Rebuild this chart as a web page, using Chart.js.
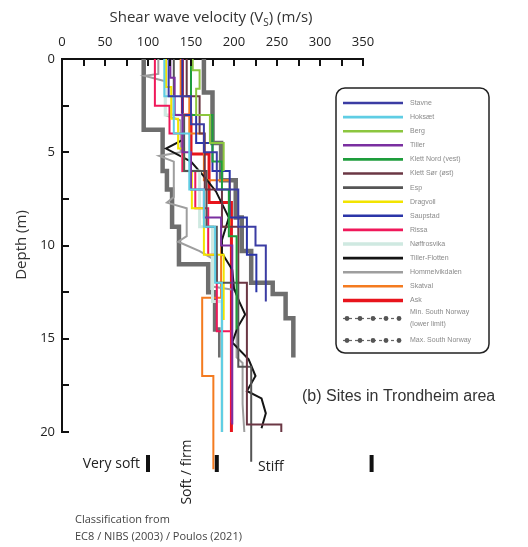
<!DOCTYPE html>
<html>
<head>
<meta charset="utf-8">
<script src="https://cdn.jsdelivr.net/npm/chart.js@4.4.1/dist/chart.umd.min.js"></script>
<style>
  html, body { margin: 0; padding: 0; background: #fff; }
  #wrap { position: relative; width: 528px; height: 547px; }
</style>
</head>
<body>
<div id="wrap"><canvas id="vs-profiles"></canvas></div>
<script>
// layer boundaries (depth, m) and layer shear wave velocity (m/s) per site
const stavneDepth = [0, 2, 3.5, 5, 7, 9, 10, 13];
const stavneVs    = [124, 150, 165, 180, 205, 225, 237];
const hoksaetDepth = [0, 2, 4, 7, 9, 12, 20];
const hoksaetVs    = [119, 130, 148, 165, 178, 186];
const bergDepth = [0, 0.6, 1.6, 3, 4.5, 6];
const bergVs    = [152, 160, 156, 172, 188];
const tillerDepth = [0, 1, 3, 5, 7, 8.5, 10, 19.6];
const tillerVs    = [126, 131, 140, 150, 165, 185, 198];
const klettNDepth = [0, 3, 5.5, 7, 9.5, 14.5];
const klettNVs    = [150, 175, 186, 194, 203];
const klettSDepth = [0, 2, 4, 7, 9, 12, 19.6, 20];
const klettSVs    = [145, 160, 166, 186, 205, 215, 255];
const espDepth = [0, 3, 6, 9, 12, 16.5, 21.6];
const espVs    = [130, 142, 168, 180, 205, 220];
const dragvollDepth = [0, 1.5, 3.2, 4.8, 6, 8, 10.5, 14];
const dragvollVs    = [121, 127, 135, 142, 151, 165, 188];
const saupstadDepth = [0, 3, 4.5, 6, 8.5, 10.5, 12.5];
const saupstadVs    = [140, 156, 175, 195, 215, 226];
const rissaDepth = [0, 2.5, 4, 6, 8, 10.5, 14.6, 19.5];
const rissaVs    = [108, 125, 140, 155, 170, 180, 197];
const noffDepth = [0, 3, 6, 9, 13, 20];
const noffVs    = [120, 140, 160, 175, 186];
const skatvalDepth = [0, 2, 4, 6.5, 9, 12.8, 17, 22];
const skatvalVs    = [138, 148, 165, 195, 185, 163, 176];
const askDepth = [0, 3, 5.1, 7.7, 20];
const askVs    = [140, 150, 171, 197];
const minDepth = [0, 3.8, 6, 7, 9, 11, 12.5, 14.5, 16];
const minVs    = [95, 117, 122, 128, 136, 170, 178, 184];
const maxDepth = [0, 1.8, 4.5, 6.5, 8.5, 10.3, 12, 12.6, 13.9, 16];
const maxVs    = [165, 175, 185, 202, 209, 220, 245, 260, 269];

// profiles measured point by point (not layered)
const flottenDepth = [4.3, 4.8, 5.5, 6.4, 7.1, 8.5, 9.7, 10.4, 11.3, 12.3, 13.0, 13.7, 14.4, 15.2, 16.1, 17.0, 17.8, 18.2, 19.0, 19.8];
const flottenVs    = [142, 121, 150, 167, 179, 194, 186, 186, 198, 200, 206, 213, 204, 198, 217, 225, 215, 232, 237, 232];
const hommelDepth = [0, 0.8, 0.9, 1.2, 3.0, 3.3, 5.0, 5.2, 5.5, 7.4, 7.7, 8.0, 9.5, 9.8, 10.3, 10.7, 12.2, 12.4, 16, 16.3, 18.5, 20];
const hommelVs    = [112, 112, 96, 120, 120, 138, 138, 113, 130, 130, 122, 145, 145, 135, 160, 175, 175, 203, 203, 210, 210, 212];

// EC8 / NIBS soil class limits (m/s)
const classLimits = [100, 180, 360];
const xTicksStep = 25;
const yTicksStep = 2.5;

function layered(depths, vs) {
  const pts = [];
  for (let i = 0; i < vs.length; i++) {
    pts.push({ x: vs[i], y: depths[i] });
    pts.push({ x: vs[i], y: depths[i + 1] });
  }
  return pts;
}
function pointwise(depths, vs) {
  return depths.map((d, i) => ({ x: vs[i], y: d }));
}

function site(label, color, data, width) {
  return { label, data, borderColor: color, backgroundColor: color, borderWidth: width || 2,
    showLine: true, pointRadius: 0, tension: 0, clip: false };
}

const datasets = [
  site("Stavne", "#3b3ca3", layered(stavneDepth, stavneVs)),
  site("Hoksæt", "#5fcde4", layered(hoksaetDepth, hoksaetVs)),
  site("Berg", "#8cc63f", layered(bergDepth, bergVs)),
  site("Tiller", "#7a2fa0", layered(tillerDepth, tillerVs)),
  site("Klett Nord (vest)", "#1e9d3c", layered(klettNDepth, klettNVs)),
  site("Klett Sør (øst)", "#6b3744", layered(klettSDepth, klettSVs)),
  site("Esp", "#555555", layered(espDepth, espVs)),
  site("Dragvoll", "#f2e400", layered(dragvollDepth, dragvollVs)),
  site("Saupstad", "#2b35a8", layered(saupstadDepth, saupstadVs)),
  site("Rissa", "#f0185a", layered(rissaDepth, rissaVs)),
  site("Nøffrosvika", "#cfe9e1", layered(noffDepth, noffVs), 3),
  site("Tiller-Flotten", "#141414", pointwise(flottenDepth, flottenVs), 2),
  site("Hommelvikdalen", "#9e9e9e", pointwise(hommelDepth, hommelVs)),
  site("Skatval", "#f47b20", layered(skatvalDepth, skatvalVs)),
  site("Ask", "#e8141c", layered(askDepth, askVs), 3),
  Object.assign(site("Min. South Norway|(lower limit)", "#6e6e6e", layered(minDepth, minVs), 4.5), { dots: true }),
  Object.assign(site("Max. South Norway", "#6e6e6e", layered(maxDepth, maxVs), 4.5), { dots: true }),
];

// ticks point into the plot, so they are drawn by hand
const inwardTicks = {
  id: "inwardTicks",
  afterDraw(chart) {
    const { ctx, scales: { x, y }, chartArea: a } = chart;
    ctx.save();
    ctx.strokeStyle = "#111";
    ctx.lineWidth = 2;
    x.ticks.forEach(t => {
      const px = Math.round(x.getPixelForValue(t.value));
      ctx.beginPath(); ctx.moveTo(px, a.top); ctx.lineTo(px, a.top + 7); ctx.stroke();
    });
    y.ticks.forEach(t => {
      const py = Math.round(y.getPixelForValue(t.value));
      ctx.beginPath(); ctx.moveTo(a.left, py); ctx.lineTo(a.left + 7, py); ctx.stroke();
    });
    ctx.restore();
  }
};

const annotations = {
  id: "annotations",
  afterDraw(chart) {
    const { ctx, scales: { x } } = chart;
    ctx.save();
    ctx.fillStyle = "#333";
    ctx.textBaseline = "middle";

    // axis titles (x title has a subscript S)
    const t1 = "Shear wave velocity (V", t2 = "S", t3 = ") (m/s)";
    ctx.font = "15px 'Open Sans'";
    const w1 = ctx.measureText(t1).width, w3 = ctx.measureText(t3).width;
    ctx.font = "10px 'Open Sans'";
    const w2 = ctx.measureText(t2).width;
    let tx = 211 - (w1 + w2 + w3) / 2;
    ctx.textAlign = "left";
    ctx.font = "15px 'Open Sans'";
    ctx.fillText(t1, tx, 18); tx += w1;
    ctx.font = "10px 'Open Sans'";
    ctx.fillText(t2, tx, 23); tx += w2;
    ctx.font = "15px 'Open Sans'";
    ctx.fillText(t3, tx, 18);

    ctx.save();
    ctx.translate(22, 245);
    ctx.rotate(-Math.PI / 2);
    ctx.textAlign = "center";
    ctx.fillText("Depth (m)", 0, 0);
    ctx.restore();

    // class limits below the profiles
    ctx.fillStyle = "#111";
    classLimits.forEach(v => {
      const px = x.getPixelForValue(v);
      ctx.fillRect(px - 2, 455, 4, 17);
    });
    ctx.fillStyle = "#222";
    ctx.font = "14px 'Open Sans'";
    ctx.textAlign = "right";
    ctx.fillText("Very soft", x.getPixelForValue(classLimits[0]) - 8, 464);
    ctx.textAlign = "left";
    ctx.fillText("Stiff", 258, 467);
    ctx.save();
    ctx.translate(187, 472);
    ctx.rotate(-Math.PI / 2);
    ctx.textAlign = "center";
    ctx.fillText("Soft / firm", 0, 0);
    ctx.restore();

    ctx.font = "11px 'Open Sans'";
    ctx.fillStyle = "#444";
    ctx.fillText("Classification from", 75, 520);
    ctx.fillText("EC8 / NIBS (2003) / Poulos (2021)", 75, 537);

    ctx.font = "16px 'Liberation Sans'";
    ctx.fillStyle = "#333";
    ctx.fillText("(b) Sites in Trondheim area", 302, 397);
    ctx.restore();
  }
};

// boxed legend on the right-hand side
const boxLegend = {
  id: "boxLegend",
  afterDraw(chart) {
    const { ctx } = chart;
    ctx.save();
    ctx.fillStyle = "#fff";
    ctx.strokeStyle = "#222";
    ctx.lineWidth = 1.5;
    ctx.beginPath();
    ctx.roundRect(336, 88, 153, 265, 9);
    ctx.fill(); ctx.stroke();

    ctx.font = "7px 'Liberation Sans'";
    ctx.textBaseline = "middle";
    ctx.textAlign = "left";
    let row = 103;
    chart.data.datasets.forEach(ds => {
      const lines = ds.label.split("|");
      const cy = lines.length > 1 ? row + 4 : row;
      if (ds.dots) {
        ctx.strokeStyle = "#666"; ctx.lineWidth = 1.2;
        ctx.setLineDash([3, 3]);
        ctx.beginPath(); ctx.moveTo(343, cy); ctx.lineTo(403, cy); ctx.stroke();
        ctx.setLineDash([]);
        ctx.fillStyle = "#555";
        for (let k = 0; k < 5; k++) {
          ctx.beginPath(); ctx.arc(347 + k * 13, cy, 2.4, 0, Math.PI * 2); ctx.fill();
        }
      } else {
        ctx.strokeStyle = ds.borderColor;
        ctx.lineWidth = ds.borderWidth > 2 ? 3.5 : 2.6;
        ctx.beginPath(); ctx.moveTo(343, cy); ctx.lineTo(403, cy); ctx.stroke();
      }
      ctx.fillStyle = "#8a8a8a";
      lines.forEach((ln, i) => ctx.fillText(ln, 410, row - (lines.length - 1) * 2 + i * 12));
      row += lines.length > 1 ? 26 : 14.1;
    });
    ctx.restore();
  }
};

new Chart(document.getElementById("vs-profiles"), {
  type: "scatter",
  data: { datasets },
  options: {
    responsive: true,
    maintainAspectRatio: false,
    animation: false,
    layout: { padding: { left: 0, top: 0, right: 165, bottom: 115 } },
    plugins: { legend: { display: false }, tooltip: { enabled: false } },
    scales: {
      x: {
        type: "linear", position: "top", min: 0, max: 350,
        border: { display: true, color: "#111", width: 2 },
        grid: { display: true, drawOnChartArea: false, drawTicks: false },
        ticks: {
          stepSize: xTicksStep, padding: 9, color: "#222", maxRotation: 0, autoSkip: false,
          font: { family: "'Open Sans'", size: 13 },
          callback: v => (v % 50 === 0 ? v : "")
        },
        afterFit: s => { s.height = 59; }
      },
      y: {
        type: "linear", reverse: true, min: 0, max: 20,
        border: { display: true, color: "#111", width: 2 },
        grid: { display: true, drawOnChartArea: false, drawTicks: false },
        ticks: {
          stepSize: yTicksStep, padding: 7, color: "#222", autoSkip: false,
          font: { family: "'Open Sans'", size: 13 },
          callback: v => (v % 5 === 0 ? v : "")
        },
        afterFit: s => { s.width = 62; }
      }
    }
  },
  plugins: [inwardTicks, annotations, boxLegend]
});
</script>
</body>
</html>
